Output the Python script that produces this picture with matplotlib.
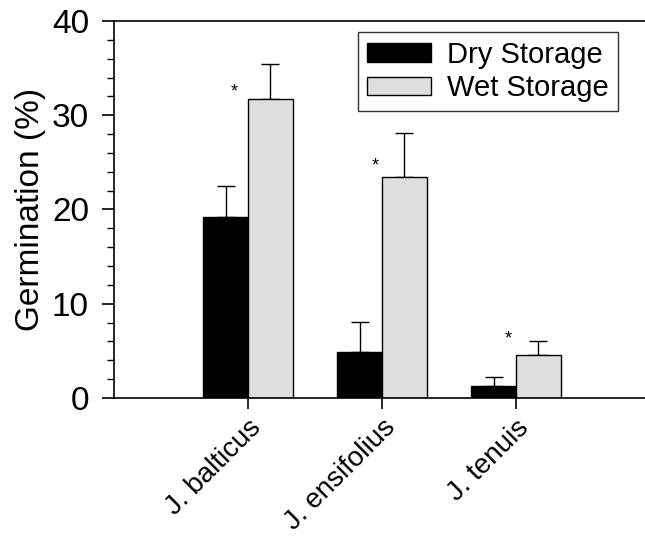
import numpy as np
import matplotlib
matplotlib.use("Agg")
import matplotlib.pyplot as plt
from matplotlib.ticker import MultipleLocator

plt.rcParams['font.family'] = ['Liberation Sans', 'DejaVu Sans']

# data
species = ["J. balticus", "J. ensifolius", "J. tenuis"]
dry = [19.2, 4.9, 1.3]
dry_err = [3.3, 3.2, 0.9]
wet = [31.7, 23.4, 4.6]
wet_err = [3.7, 4.7, 1.4]
star_x = [0.90, 1.95, 2.94]
star_y = [31.6, 23.7, 5.4]

fig = plt.figure(figsize=(6.45, 5.37), dpi=100)
ax = fig.add_axes([0.1767, 0.2588, 0.8311, 0.7022])

x = np.arange(1, len(species) + 1)
w = 0.335

ax.bar(x - w / 2, dry, w, color="black", edgecolor="black", linewidth=1, label="Dry Storage", zorder=2)
ax.bar(x + w / 2, wet, w, color="#dedede", edgecolor="black", linewidth=1, label="Wet Storage", zorder=2)
ax.errorbar(x - w / 2, dry, yerr=[np.zeros(3), dry_err], fmt="none", ecolor="black",
            elinewidth=1, capsize=6.5, capthick=1, zorder=1)
ax.errorbar(x + w / 2, wet, yerr=[np.zeros(3), wet_err], fmt="none", ecolor="black",
            elinewidth=1, capsize=6.5, capthick=1, zorder=1)

for sx, sy in zip(star_x, star_y):
    ax.text(sx, sy, "*", ha="center", va="bottom", fontsize=13)

ax.set_xlim(0, 4)
ax.set_ylim(0, 40)
ax.set_xticks(x)
ax.set_xticklabels(species, rotation=45, ha="right", rotation_mode="anchor", fontsize=20)
ax.yaxis.set_major_locator(MultipleLocator(10))
ax.yaxis.set_minor_locator(MultipleLocator(2))
ax.tick_params(axis="y", which="major", length=9, width=1.2, labelsize=24, pad=9)
ax.tick_params(axis="y", which="minor", length=5, width=1)
ax.tick_params(axis="x", which="major", length=8, width=1.2, pad=4)
ax.set_ylabel("Germination (%)", fontsize=24, labelpad=4)
ax.spines["right"].set_visible(False)
for s in ["left", "bottom", "top"]:
    ax.spines[s].set_linewidth(1.2)

leg = ax.legend(loc="upper right", bbox_to_anchor=(0.94, 0.971), fontsize=21, frameon=True,
                fancybox=False, edgecolor="black", handlelength=2.2, handleheight=0.6,
                borderpad=0.3, labelspacing=0.2, handletextpad=0.55, borderaxespad=0)
leg.get_frame().set_linewidth(1)

fig.savefig("out.png", dpi=100)
